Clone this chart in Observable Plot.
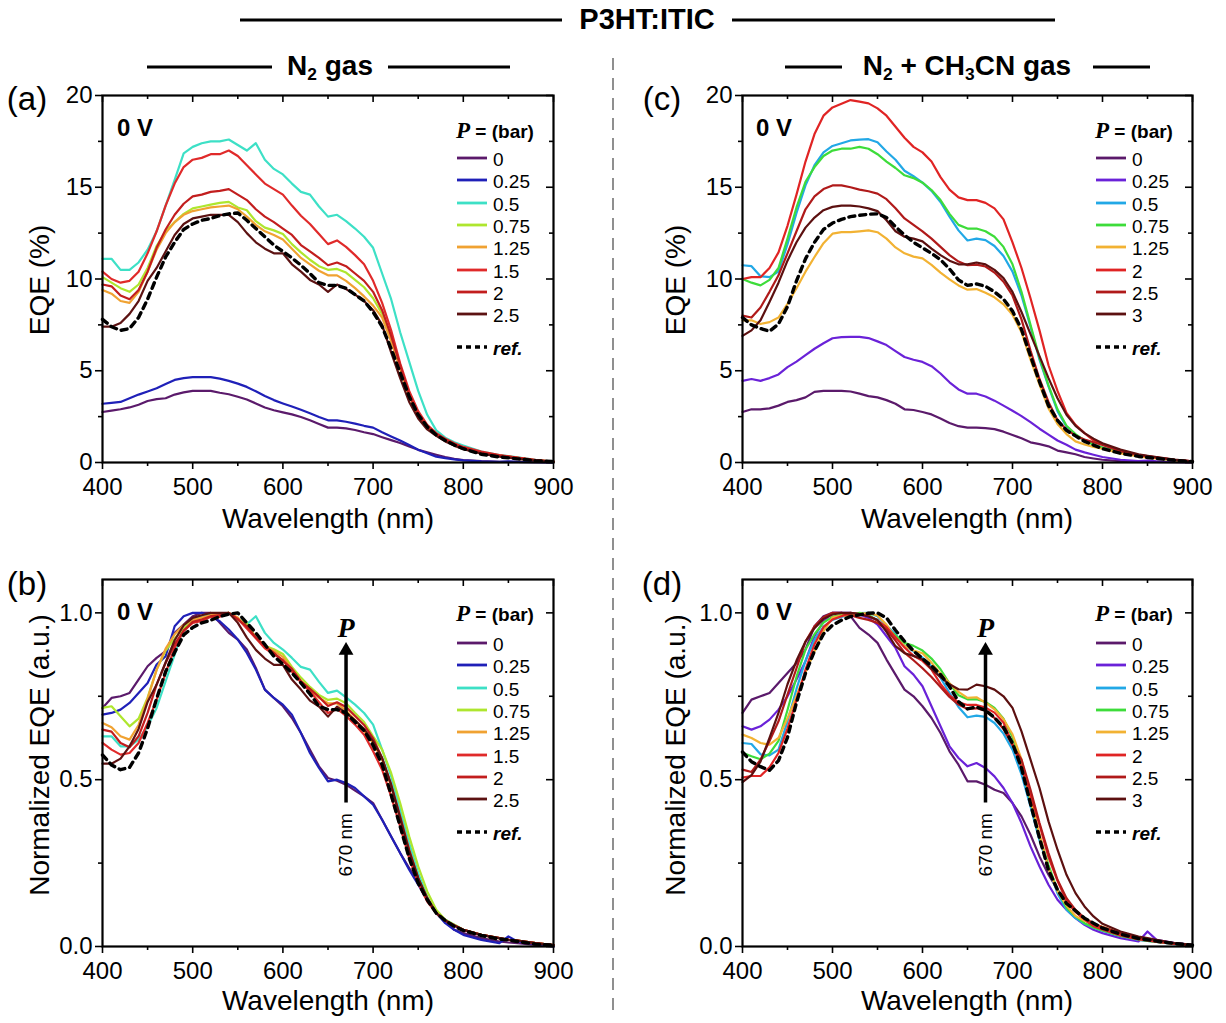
<!DOCTYPE html>
<html><head><meta charset="utf-8">
<script src="https://cdn.jsdelivr.net/npm/d3@7"></script>
<script src="https://cdn.jsdelivr.net/npm/@observablehq/plot@0.6"></script>
<style>
html,body{margin:0;padding:0;background:#fff}
#root{position:relative;width:1226px;height:1023px;overflow:hidden;font-family:"Liberation Sans",Arial,Helvetica,sans-serif;color:#000}
.t{position:absolute;white-space:nowrap;line-height:1}
.panel{position:absolute}
sub{font-size:0.62em;vertical-align:-0.28em;line-height:0}
</style></head><body><div id="root"></div><script>
// ---------------- data ----------------
const wavelength = [400,410,420,430,440,450,460,470,480,490,500,510,520,530,540,550,560,570,580,590,600,610,620,630,640,650,660,670,680,690,700,710,720,730,740,750,760,770,780,790,800,820,840,850,860,880,900];

// Panel (a): N2 gas, EQE (%)
const eqeN2_p0   = [2.75,2.83,2.9,3.0,3.15,3.35,3.45,3.5,3.7,3.82, 3.9,3.9,3.9,3.8,3.72,3.58,3.43,3.22,3.0,2.85, 2.73,2.62,2.48,2.3,2.1,1.9,1.9,1.86,1.77,1.65, 1.55,1.38,1.22,1.06,0.88,0.69,0.55,0.42,0.3,0.2, 0.13,0.07,0.04,0.04,0.03,0.02,0.01];
const eqeN2_p025 = [3.2,3.25,3.3,3.5,3.7,3.87,4.05,4.28,4.5,4.6, 4.65,4.65,4.65,4.57,4.45,4.3,4.12,3.88,3.62,3.4, 3.22,3.05,2.87,2.68,2.48,2.3,2.3,2.22,2.12,2.0, 1.9,1.65,1.42,1.2,0.95,0.7,0.5,0.32,0.24,0.17, 0.12,0.06,0.03,0.06,0.03,0.02,0.01];
const eqeN2_p05  = [11.1,11.1,10.5,10.5,10.9,11.6,12.6,14.0,15.4,16.85, 17.2,17.4,17.5,17.5,17.6,17.3,17.0,17.4,16.5,16.0, 15.7,15.2,14.75,14.6,13.95,13.4,13.5,13.15,12.75,12.3, 11.7,10.3,8.9,7.1,5.5,3.9,2.6,1.75,1.35,1.1, 0.93,0.6,0.4,0.35,0.28,0.15,0.05];
const eqeN2_p075 = [10.1,9.8,9.5,9.3,9.7,10.6,11.8,12.6,13.1,13.55, 13.85,13.95,14.05,14.15,14.2,13.9,13.75,13.15,12.8,12.65, 12.45,11.9,11.45,11.05,10.7,10.5,10.55,10.35,9.95,9.55, 8.95,8.1,6.8,5.2,3.7,2.6,1.9,1.5,1.2,0.98, 0.8,0.55,0.38,0.32,0.25,0.12,0.05];
const eqeN2_p125 = [9.4,9.2,8.8,8.7,9.3,10.4,11.6,12.5,13.1,13.5, 13.7,13.8,13.9,13.95,14.0,13.8,13.4,12.95,12.6,12.4, 12.15,11.65,11.15,10.8,10.45,10.2,10.2,9.9,9.5,9.05, 8.55,7.9,6.6,5.1,3.6,2.6,1.9,1.5,1.2,0.98, 0.8,0.55,0.38,0.32,0.25,0.12,0.05];
const eqeN2_p15  = [10.4,10.0,9.8,9.9,10.4,11.4,12.6,14.0,15.2,16.1, 16.5,16.6,16.8,16.8,17.0,16.7,16.2,15.7,15.2,14.9, 14.6,14.0,13.45,13.0,12.45,11.9,12.1,11.75,11.3,10.8, 9.9,8.7,7.2,5.4,3.9,2.8,2.05,1.6,1.3,1.05, 0.85,0.6,0.4,0.33,0.27,0.14,0.05];
const eqeN2_p2   = [9.7,9.6,9.1,8.9,9.4,10.4,11.7,12.7,13.5,14.1, 14.5,14.6,14.75,14.8,14.9,14.6,14.3,13.8,13.4,13.1, 12.75,12.4,11.85,11.5,11.15,10.75,10.9,10.7,10.3,9.9, 9.3,8.3,6.9,5.3,3.7,2.6,1.95,1.55,1.25,1.0, 0.8,0.55,0.38,0.32,0.25,0.12,0.05];
const eqeN2_p25  = [7.4,7.4,7.6,8.1,8.8,9.9,10.6,11.5,12.4,13.0, 13.3,13.4,13.5,13.5,13.5,13.1,12.5,12.0,11.65,11.4, 11.4,10.8,10.4,9.95,9.7,9.3,9.7,9.45,9.15,8.8, 8.3,7.5,6.0,4.6,3.3,2.4,1.8,1.45,1.15,0.92, 0.72,0.48,0.32,0.27,0.2,0.1,0.05];
const eqeN2_ref  = [7.8,7.4,7.2,7.3,7.9,8.9,10.1,11.2,12.0,12.7, 13.0,13.2,13.3,13.45,13.55,13.6,13.2,12.75,12.3,11.85, 11.5,11.15,10.75,10.3,9.8,9.65,9.65,9.5,9.15,8.8, 8.2,7.4,6.2,4.9,3.6,2.6,1.95,1.5,1.2,0.95, 0.75,0.45,0.3,0.25,0.2,0.1,0.05];

// Panel (b): N2 gas, normalized EQE
const normN2_p0   = [0.715,0.745,0.75,0.76,0.80,0.84,0.865,0.885,0.94,0.965, 0.99,1.0,1.0,0.97,0.94,0.92,0.89,0.835,0.77,0.745, 0.72,0.685,0.64,0.59,0.54,0.505,0.497,0.485,0.467,0.45, 0.43,0.38,0.33,0.28,0.235,0.19,0.14,0.10,0.075,0.05, 0.04,0.025,0.015,0.012,0.01,0.005,0.0];
const normN2_p025 = [0.695,0.70,0.71,0.73,0.76,0.79,0.845,0.87,0.96,0.99, 1.0,1.0,0.99,0.975,0.95,0.92,0.88,0.83,0.77,0.745, 0.725,0.695,0.64,0.58,0.535,0.495,0.50,0.49,0.475,0.45, 0.425,0.38,0.33,0.28,0.23,0.185,0.14,0.10,0.07,0.05, 0.035,0.02,0.01,0.03,0.015,0.008,0.0];
const normN2_p05  = [0.63,0.63,0.60,0.60,0.62,0.66,0.715,0.795,0.875,0.957, 0.977,0.99,0.995,0.995,1.0,0.983,0.966,0.99,0.94,0.91, 0.89,0.865,0.838,0.83,0.793,0.76,0.767,0.747,0.725,0.70, 0.665,0.59,0.51,0.41,0.31,0.22,0.15,0.10,0.08,0.065, 0.05,0.035,0.025,0.02,0.018,0.01,0.004];
const normN2_p075 = [0.715,0.72,0.69,0.66,0.683,0.746,0.83,0.887,0.923,0.954, 0.975,0.982,0.99,0.996,1.0,0.979,0.968,0.926,0.901,0.891, 0.877,0.838,0.806,0.778,0.754,0.739,0.743,0.729,0.70,0.673, 0.63,0.59,0.52,0.43,0.33,0.24,0.165,0.11,0.08,0.065, 0.05,0.035,0.025,0.02,0.018,0.01,0.004];
const normN2_p125 = [0.67,0.657,0.63,0.62,0.664,0.743,0.829,0.893,0.936,0.964, 0.979,0.986,0.993,0.996,1.0,0.986,0.957,0.925,0.90,0.886, 0.868,0.832,0.796,0.771,0.746,0.729,0.729,0.707,0.679,0.646, 0.61,0.56,0.48,0.385,0.29,0.205,0.145,0.10,0.078,0.063, 0.05,0.035,0.025,0.02,0.018,0.01,0.004];
const normN2_p15  = [0.61,0.59,0.575,0.58,0.61,0.67,0.74,0.82,0.895,0.947, 0.97,0.976,0.988,0.988,1.0,0.982,0.953,0.924,0.894,0.876, 0.859,0.824,0.791,0.765,0.732,0.70,0.712,0.691,0.665,0.635, 0.585,0.53,0.45,0.36,0.265,0.19,0.135,0.10,0.078,0.063, 0.05,0.035,0.025,0.02,0.018,0.01,0.004];
const normN2_p2   = [0.65,0.644,0.61,0.597,0.63,0.70,0.785,0.85,0.906,0.946, 0.973,0.98,0.99,0.993,1.0,0.98,0.96,0.926,0.90,0.88, 0.856,0.832,0.795,0.772,0.748,0.721,0.732,0.718,0.691,0.664, 0.624,0.565,0.485,0.39,0.29,0.205,0.145,0.10,0.078,0.063, 0.05,0.035,0.025,0.02,0.018,0.01,0.004];
const normN2_p25  = [0.548,0.548,0.563,0.60,0.652,0.733,0.785,0.852,0.918,0.963, 0.985,0.993,1.0,1.0,1.0,0.97,0.926,0.889,0.863,0.844, 0.844,0.80,0.77,0.737,0.719,0.689,0.719,0.70,0.678,0.652, 0.615,0.565,0.485,0.385,0.285,0.205,0.145,0.10,0.078,0.063, 0.05,0.035,0.025,0.02,0.018,0.01,0.004];
const normN2_ref  = [0.574,0.544,0.53,0.537,0.58,0.654,0.743,0.824,0.882,0.934, 0.956,0.97,0.978,0.989,0.996,1.0,0.97,0.94,0.905,0.87, 0.846,0.82,0.79,0.757,0.72,0.71,0.71,0.70,0.673,0.647, 0.603,0.545,0.455,0.36,0.265,0.19,0.14,0.10,0.078,0.06, 0.048,0.033,0.022,0.02,0.015,0.007,0.004];

// Panel (c): N2 + CH3CN gas, EQE (%)
const eqeMix_p0   = [2.75,2.9,2.9,2.95,3.1,3.3,3.4,3.55,3.85,3.9, 3.9,3.9,3.87,3.75,3.62,3.55,3.4,3.2,2.9,2.86, 2.75,2.62,2.4,2.15,1.98,1.9,1.9,1.87,1.82,1.68, 1.5,1.32,1.1,1.0,0.88,0.65,0.55,0.45,0.3,0.22, 0.15,0.08,0.05,0.04,0.03,0.02,0.01];
const eqeMix_p025 = [4.45,4.55,4.45,4.6,4.8,5.2,5.5,5.85,6.2,6.5, 6.77,6.83,6.85,6.85,6.78,6.6,6.4,6.07,5.75,5.6, 5.48,5.25,4.85,4.37,3.98,3.75,3.75,3.6,3.37,3.1, 2.82,2.53,2.2,1.84,1.52,1.2,0.97,0.7,0.55,0.42, 0.3,0.15,0.08,0.1,0.06,0.03,0.02];
const eqeMix_p05  = [10.75,10.7,10.15,10.1,10.4,11.9,13.6,15.1,16.2,16.9, 17.25,17.4,17.55,17.6,17.62,17.45,16.95,16.5,15.9,15.6, 15.25,14.8,14.2,13.4,12.65,12.1,12.2,12.12,11.8,11.25, 10.4,9.1,7.4,5.6,4.15,2.8,1.95,1.5,1.2,0.98, 0.82,0.55,0.36,0.3,0.24,0.13,0.05];
const eqeMix_p075 = [10.0,9.8,9.65,9.95,10.6,12.2,13.9,15.3,16.1,16.7, 17.0,17.1,17.1,17.2,17.1,16.8,16.4,16.05,15.65,15.5, 15.25,14.85,14.3,13.55,12.95,12.75,12.75,12.6,12.3,11.75, 10.8,9.3,7.5,5.7,4.2,2.9,2.0,1.55,1.2,0.98, 0.82,0.55,0.36,0.3,0.24,0.13,0.05];
const eqeMix_p125 = [7.75,7.75,7.55,7.65,7.9,8.65,9.5,10.4,11.2,11.95, 12.47,12.55,12.55,12.6,12.65,12.55,12.2,11.72,11.4,11.22, 11.12,10.77,10.35,9.98,9.65,9.42,9.45,9.25,9.0,8.62, 8.05,7.1,5.6,4.25,2.95,2.1,1.55,1.15,0.98,0.85, 0.75,0.5,0.33,0.27,0.22,0.12,0.05];
const eqeMix_p2   = [10.0,10.1,10.1,10.6,11.45,12.9,14.6,16.4,17.9,18.9, 19.35,19.55,19.75,19.67,19.57,19.3,18.9,18.3,17.7,17.2, 16.9,16.4,15.55,14.87,14.45,14.3,14.3,14.15,13.85,13.25, 12.0,10.6,8.95,7.2,5.3,3.9,2.7,2.05,1.6,1.2, 1.0,0.65,0.42,0.35,0.28,0.15,0.06];
const eqeMix_p25  = [8.0,7.9,8.45,9.3,10.2,11.4,12.6,13.8,14.5,14.9, 15.1,15.1,15.0,14.87,14.78,14.65,14.35,13.85,13.3,12.95, 12.6,12.2,11.75,11.3,10.95,10.75,10.78,10.68,10.35,9.85, 9.1,7.8,6.1,4.55,3.3,2.3,1.8,1.45,1.25,1.1, 0.95,0.62,0.4,0.33,0.27,0.14,0.06];
const eqeMix_p3   = [6.9,7.2,7.75,8.75,9.8,11.0,12.0,12.8,13.35,13.75, 13.93,14.0,14.0,13.95,13.85,13.7,13.2,12.6,12.3,12.2, 12.05,11.65,11.3,11.0,10.8,10.8,10.9,10.8,10.5,10.05, 9.3,8.2,7.0,5.8,4.6,3.5,2.6,2.0,1.6,1.3, 1.05,0.7,0.45,0.37,0.3,0.16,0.06];
const eqeMix_ref  = [7.9,7.5,7.3,7.15,7.55,8.5,9.9,11.1,12.0,12.7, 13.05,13.25,13.4,13.47,13.53,13.55,13.35,12.85,12.4,12.0, 11.7,11.4,11.05,10.55,9.95,9.65,9.73,9.6,9.3,8.9, 8.25,7.25,5.8,4.4,3.1,2.3,1.75,1.45,1.15,0.95, 0.75,0.5,0.33,0.27,0.22,0.12,0.05];

// Panel (d): N2 + CH3CN gas, normalized EQE
const normMix_p0   = [0.70,0.74,0.75,0.76,0.79,0.82,0.85,0.89,0.96,0.99, 1.0,1.0,0.99,0.955,0.935,0.91,0.86,0.815,0.77,0.75, 0.72,0.685,0.64,0.585,0.545,0.495,0.495,0.485,0.47,0.46, 0.43,0.39,0.335,0.27,0.215,0.17,0.135,0.105,0.08,0.06, 0.05,0.035,0.02,0.018,0.015,0.01,0.005];
const normMix_p025 = [0.66,0.65,0.66,0.68,0.71,0.75,0.80,0.855,0.93,0.975, 1.0,1.0,1.0,0.995,0.985,0.965,0.93,0.895,0.84,0.815, 0.78,0.72,0.66,0.60,0.565,0.54,0.55,0.535,0.51,0.475, 0.43,0.37,0.30,0.24,0.185,0.14,0.11,0.085,0.065,0.05, 0.04,0.025,0.015,0.045,0.02,0.01,0.005];
const normMix_p05  = [0.61,0.607,0.576,0.573,0.59,0.675,0.772,0.857,0.919,0.959, 0.979,0.988,0.996,0.999,1.0,0.99,0.962,0.936,0.902,0.885, 0.866,0.84,0.806,0.76,0.718,0.687,0.692,0.688,0.67,0.638, 0.59,0.516,0.42,0.318,0.236,0.159,0.11,0.085,0.068,0.056, 0.047,0.031,0.02,0.017,0.014,0.007,0.003];
const normMix_p075 = [0.581,0.57,0.561,0.578,0.616,0.709,0.808,0.89,0.936,0.971, 0.988,0.994,0.994,1.0,0.994,0.977,0.953,0.933,0.91,0.901, 0.887,0.863,0.831,0.788,0.753,0.741,0.741,0.733,0.715,0.683, 0.628,0.541,0.436,0.331,0.244,0.169,0.116,0.09,0.07,0.057, 0.048,0.032,0.021,0.017,0.014,0.008,0.003];
const normMix_p125 = [0.635,0.625,0.61,0.605,0.625,0.684,0.751,0.822,0.885,0.945, 0.986,0.992,0.992,0.996,1.0,0.992,0.964,0.926,0.901,0.887, 0.879,0.851,0.818,0.789,0.763,0.745,0.747,0.731,0.711,0.681, 0.636,0.561,0.443,0.336,0.233,0.166,0.123,0.091,0.077,0.067, 0.059,0.04,0.026,0.021,0.017,0.009,0.004];
const normMix_p2   = [0.506,0.511,0.511,0.537,0.58,0.653,0.739,0.83,0.906,0.957, 0.98,0.99,1.0,0.996,0.991,0.977,0.957,0.927,0.896,0.871, 0.856,0.83,0.787,0.753,0.732,0.724,0.724,0.716,0.701,0.671, 0.608,0.537,0.453,0.365,0.268,0.197,0.137,0.104,0.081,0.061, 0.051,0.033,0.021,0.018,0.014,0.008,0.003];
const normMix_p25  = [0.53,0.523,0.56,0.616,0.675,0.755,0.834,0.914,0.96,0.987, 1.0,1.0,0.993,0.985,0.979,0.97,0.95,0.917,0.881,0.858, 0.834,0.808,0.778,0.748,0.725,0.712,0.714,0.707,0.685,0.652, 0.603,0.56,0.47,0.37,0.28,0.20,0.145,0.11,0.085,0.07, 0.058,0.04,0.026,0.022,0.018,0.009,0.004];
const normMix_p3   = [0.493,0.514,0.554,0.625,0.70,0.786,0.857,0.914,0.954,0.982, 0.995,1.0,1.0,0.996,0.989,0.979,0.943,0.90,0.879,0.871, 0.861,0.832,0.807,0.786,0.771,0.77,0.785,0.78,0.77,0.75, 0.715,0.645,0.56,0.475,0.375,0.29,0.215,0.16,0.12,0.09, 0.068,0.045,0.03,0.025,0.02,0.01,0.005];
const normMix_ref  = [0.583,0.554,0.539,0.528,0.557,0.627,0.731,0.819,0.886,0.937, 0.963,0.978,0.989,0.994,0.999,1.0,0.985,0.948,0.915,0.886, 0.863,0.841,0.815,0.779,0.734,0.712,0.718,0.708,0.686,0.657, 0.609,0.535,0.428,0.325,0.229,0.17,0.129,0.107,0.085,0.07, 0.055,0.037,0.024,0.02,0.016,0.009,0.004];

// legend labels & colours
const pressN2  = ["0","0.25","0.5","0.75","1.25","1.5","2","2.5"];
const pressMix = ["0","0.25","0.5","0.75","1.25","2","2.5","3"];
const colorsN2  = ["#5b1a6b","#1f20b8","#3de0c6","#aee62e","#f0a232","#e02a2a","#c21e1e","#5c1212"];
const colorsMix = ["#5b1a6b","#6a22d8","#22a8e6","#3ddc3a","#f2b233","#e02424","#b01a1a","#5c1010"];

// axis ticks
const xMajor = [400,500,600,700,800,900];
const xMinor = [450,550,650,750,850];
const eqeMajor = [0,5,10,15,20];
const eqeMinor = [2.5,7.5,12.5,17.5];
const normMajor = [0,0.5,1.0];
const normMinor = [0.25,0.75];

// arrow annotation (normalized panels)
const arrowWavelength = [670];
const arrowFrom = 0.43, arrowTo = 0.88, arrowHead = 0.887, arrowLabelY = 0.955, nmLabelY = 0.305;

// ---------------- layout ----------------
const root = document.getElementById("root");
function put(html, x, y, css = {}, anchor = "c", rotate = 0) {
  const el = document.createElement("div");
  el.className = "t";
  el.innerHTML = html;
  el.style.left = x + "px"; el.style.top = y + "px";
  const tr = {c: "translate(-50%,-50%)", l: "translate(0,-50%)", r: "translate(-100%,-50%)"}[anchor];
  el.style.transform = tr + (rotate ? ` rotate(${rotate}deg)` : "");
  Object.assign(el.style, css);
  root.appendChild(el);
  return el;
}

const panels = [
  {id:"a", left:0,   top:85,  width:600, height:460, mL:102, mR:47, mT:10, mB:83, yDomain:[0,20], yMajor:eqeMajor, yMinor:eqeMinor, fmt:d=>String(d),
   series:[eqeN2_p0,eqeN2_p025,eqeN2_p05,eqeN2_p075,eqeN2_p125,eqeN2_p15,eqeN2_p2,eqeN2_p25], ref:eqeN2_ref, colors:colorsN2, labels:pressN2, arrow:false},
  {id:"b", left:0,   top:569, width:600, height:454, mL:102, mR:47, mT:10, mB:77, yDomain:[0,1.1], yMajor:normMajor, yMinor:normMinor, fmt:d3.format(".1f"),
   series:[normN2_p0,normN2_p025,normN2_p05,normN2_p075,normN2_p125,normN2_p15,normN2_p2,normN2_p25], ref:normN2_ref, colors:colorsN2, labels:pressN2, arrow:true},
  {id:"c", left:613, top:85,  width:613, height:460, mL:129, mR:34, mT:10, mB:83, yDomain:[0,20], yMajor:eqeMajor, yMinor:eqeMinor, fmt:d=>String(d),
   series:[eqeMix_p0,eqeMix_p025,eqeMix_p05,eqeMix_p075,eqeMix_p125,eqeMix_p2,eqeMix_p25,eqeMix_p3], ref:eqeMix_ref, colors:colorsMix, labels:pressMix, arrow:false},
  {id:"d", left:613, top:569, width:613, height:454, mL:129, mR:34, mT:10, mB:77, yDomain:[0,1.1], yMajor:normMajor, yMinor:normMinor, fmt:d3.format(".1f"),
   series:[normMix_p0,normMix_p025,normMix_p05,normMix_p075,normMix_p125,normMix_p2,normMix_p25,normMix_p3], ref:normMix_ref, colors:colorsMix, labels:pressMix, arrow:true}
];

for (const p of panels) {
  const innerW = p.width - p.mL - p.mR;
  const innerH = p.height - p.mT - p.mB;
  const marks = [];
  p.series.forEach((vals, i) => {
    const rows = wavelength.map((w, j) => ({w, v: vals[j]}));
    marks.push(Plot.line(rows, {x: "w", y: "v", stroke: p.colors[i], strokeWidth: 2.2}));
  });
  marks.push(Plot.line(wavelength.map((w, j) => ({w, v: p.ref[j]})), {x: "w", y: "v", stroke: "black", strokeWidth: 3.4, strokeDasharray: "6,5"}));
  if (p.arrow) {
    marks.push(Plot.ruleX(arrowWavelength, {x: d => d, y1: arrowFrom, y2: arrowTo, stroke: "black", strokeWidth: 3.5}));
    marks.push(Plot.dot(arrowWavelength, {x: d => d, y: arrowHead, symbol: "triangle", r: 5.5, fill: "black", stroke: "none"}));
    marks.push(Plot.text(arrowWavelength, {x: d => d, y: arrowLabelY, text: () => "P", fontFamily: "Liberation Serif, Times New Roman, serif", fontStyle: "italic", fontWeight: "bold", fontSize: 28, fill: "black"}));
    marks.push(Plot.text(arrowWavelength, {x: d => d, y: nmLabelY, text: () => "670 nm", rotate: -90, fontSize: 19, fill: "black"}));
  }
  marks.push(
    Plot.axisX({ticks: xMajor, tickSize: 7, tickPadding: 8, tickFormat: d => String(d), fontSize: 24, label: null, strokeWidth: 1.6}),
    Plot.axisX({ticks: xMinor, tickSize: 4, tickFormat: () => "", label: null, strokeWidth: 1.6}),
    Plot.axisY({ticks: p.yMajor, tickSize: 7, tickPadding: 3, tickFormat: p.fmt, fontSize: 24, label: null, strokeWidth: 1.6}),
    Plot.axisY({ticks: p.yMinor, tickSize: 4, tickFormat: () => "", label: null, strokeWidth: 1.6}),
    Plot.ruleX(xMajor, {x: d => d, insetBottom: innerH - 7, strokeWidth: 1.6}),
    Plot.ruleX(xMinor, {x: d => d, insetBottom: innerH - 4, strokeWidth: 1.6}),
    Plot.ruleY(p.yMajor, {y: d => d, insetLeft: innerW - 7, strokeWidth: 1.6}),
    Plot.ruleY(p.yMinor, {y: d => d, insetLeft: innerW - 4, strokeWidth: 1.6}),
    Plot.frame({stroke: "black", strokeWidth: 2.2})
  );
  const svg = Plot.plot({
    width: p.width, height: p.height,
    marginLeft: p.mL, marginRight: p.mR, marginTop: p.mT, marginBottom: p.mB,
    x: {domain: [400, 900]},
    y: {domain: p.yDomain},
    style: {background: "transparent", fontFamily: "Liberation Sans, Arial, sans-serif", fontSize: "24px", color: "black", overflow: "visible"},
    marks
  });
  const holder = document.createElement("div");
  holder.className = "panel";
  holder.style.left = p.left + "px"; holder.style.top = p.top + "px";
  holder.appendChild(svg);
  root.appendChild(holder);
}

// ---------------- decorations ----------------
const deco = d3.select(root).append("svg")
  .attr("width", 1226).attr("height", 1023)
  .style("position", "absolute").style("left", 0).style("top", 0).style("pointer-events", "none");
const hlines = [[240,562,20],[732,1055,20],[147,272,67],[388,510,67],[785,842,67],[1093,1150,67]];
deco.selectAll("line.h").data(hlines).join("line")
  .attr("x1", d => d[0]).attr("x2", d => d[1]).attr("y1", d => d[2]).attr("y2", d => d[2])
  .attr("stroke", "black").attr("stroke-width", 3);
deco.append("line").attr("x1", 613).attr("x2", 613).attr("y1", 58).attr("y2", 1018)
  .attr("stroke", "#8f8f8f").attr("stroke-width", 2).attr("stroke-dasharray", "12,8");

put("P3HT:ITIC", 647, 19, {fontWeight: "bold", fontSize: "29px"});
put("N<sub>2</sub> gas", 330, 66, {fontWeight: "bold", fontSize: "28px"});
put("N<sub>2</sub> + CH<sub>3</sub>CN gas", 967, 66, {fontWeight: "bold", fontSize: "28px"});

// panel letters
[["(a)",27,98],["(b)",27,583],["(c)",662,98],["(d)",662,583]].forEach(([t,x,y]) => put(t, x, y, {fontSize: "33px"}));

// axis titles
[[40,280,"EQE (%)"],[40,755,"Normalized EQE (a.u.)"],[676,280,"EQE (%)"],[676,755,"Normalized EQE (a.u.)"]]
  .forEach(([x,y,t]) => put(t, x, y, {fontSize: "28px"}, "c", -90));
[[328,519],[328,1001],[967,519],[967,1001]].forEach(([x,y]) => put("Wavelength (nm)", x, y, {fontSize: "28px"}));

// "0 V"
[[117,128],[117,612],[756,128],[756,612]].forEach(([x,y]) => put("0 V", x, y, {fontWeight: "bold", fontSize: "24px"}, "l"));

// legends
function swatch(color, dashed) {
  return `<svg width="30" height="8" style="display:block"><line x1="0" x2="30" y1="4" y2="4" stroke="${color}" stroke-width="${dashed ? 3.4 : 2.8}" ${dashed ? 'stroke-dasharray="5,4"' : ''}/></svg>`;
}
const legends = [
  {x: 456, y: 130, y0: 158, labels: pressN2, colors: colorsN2},
  {x: 456, y: 613, y0: 643, labels: pressN2, colors: colorsN2},
  {x: 1095, y: 130, y0: 158, labels: pressMix, colors: colorsMix},
  {x: 1095, y: 613, y0: 643, labels: pressMix, colors: colorsMix}
];
for (const L of legends) {
  put(`<span style="font-family:'Liberation Serif','Times New Roman',serif;font-style:italic;font-weight:bold;font-size:23px">P</span><span style="font-weight:bold;font-size:19px"> = (bar)</span>`, L.x, L.y, {}, "l");
  L.labels.forEach((lab, i) => {
    const y = L.y0 + i * 22.3;
    put(swatch(L.colors[i], false), L.x + 1, y, {}, "l");
    put(lab, L.x + 37, y + 1, {fontSize: "19px"}, "l");
  });
  const yr = L.y0 + 8 * 22.3 + 11;
  put(swatch("black", true), L.x + 1, yr, {}, "l");
  put("ref.", L.x + 37, yr + 1, {fontSize: "19px", fontWeight: "bold", fontStyle: "italic"}, "l");
}
</script></body></html>
